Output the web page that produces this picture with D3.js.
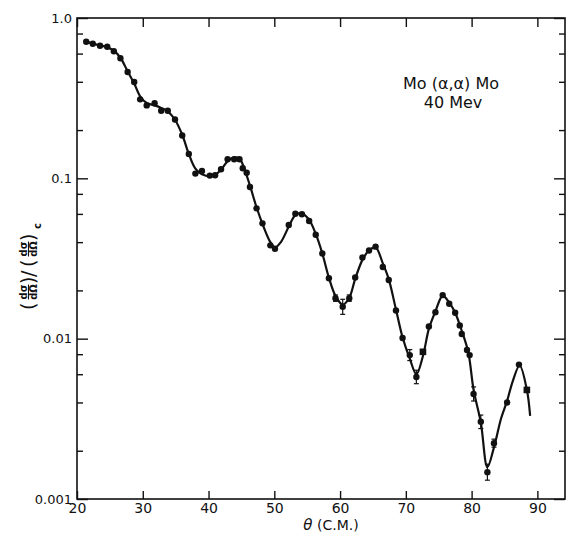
<!DOCTYPE html>
<html><head><meta charset="utf-8">
<script src="https://cdn.jsdelivr.net/npm/d3@7"></script>
<style>
body{margin:0;background:#fff}
svg{display:block}
text{font-family:"DejaVu Sans",sans-serif;fill:#111}
</style>
</head><body>
<svg id="c" width="566" height="533"></svg>
<script>
// ---- data ----
const theta = [21.4,22.4,23.5,24.6,25.6,26.6,27.7,28.7,29.6,30.6,
  31.8,32.8,33.8,34.9,36.0,37.0,38.0,39.0,40.2,41.0,
  41.9,42.9,43.9,44.7,45.2,45.8,46.3,47.3,48.2,49.4,
  50.1,52.2,53.2,54.2,55.3,56.3,57.3,58.3,59.3,60.4,
  61.4,62.3,63.4,64.4,65.4,66.5,67.4,68.5,69.5,70.6,
  71.6,72.6,73.5,74.5,75.6,76.6,77.5,78.2,78.5,79.3,
  79.7,80.3,81.4,82.4,83.4,85.4,87.2,88.4];
const ratio = [0.711,0.691,0.672,0.662,0.620,0.561,0.460,0.399,0.311,0.285,
  0.294,0.264,0.264,0.233,0.185,0.142,0.107,0.111,0.104,0.1045,
  0.114,0.1315,0.1315,0.1315,0.1155,0.1084,0.0883,0.0650,0.0524,0.0382,
  0.0364,0.0512,0.0601,0.0597,0.0542,0.0445,0.0340,0.0238,0.0179,0.0158,
  0.0179,0.0241,0.0321,0.0355,0.0375,0.0280,0.0232,0.0150,0.0101,0.0079,
  0.00577,0.00828,0.0119,0.0146,0.0187,0.0165,0.0145,0.0121,0.0107,0.0085,
  0.0079,0.00452,0.00303,0.00147,0.00223,0.00400,0.00689,0.00479];
const squareAt = [51, 67];
const errAt = [38,39,40,49,50,61,62,63,64];
const errHalf = [0.02,0.047,0.02,0.034,0.042,0.044,0.042,0.05,0.025]; // log10 half-widths

const curveTheta = [21.4,22.5,24.5,25.6,26.6,27.7,28.7,29.6,30.6,31.8,32.8,33.8,34.9,36.0,37.0,38.0,39.0,40.2,41.0,41.9,42.9,43.9,44.7,45.2,46.3,47.3,48.2,49.4,50.1,51.0,52.2,53.2,54.2,55.3,56.3,57.3,58.3,59.3,60.4,61.4,62.3,63.4,64.4,65.4,66.5,67.4,68.5,69.5,70.6,71.6,72.6,73.5,74.5,75.6,76.6,77.5,78.5,79.5,80.3,81.4,82.4,83.4,84.5,85.4,86.3,87.3,88.4,88.9];
const curveRatio = [0.715,0.69,0.66,0.625,0.565,0.465,0.39,0.325,0.295,0.285,0.275,0.262,0.232,0.187,0.142,0.115,0.106,0.103,0.105,0.113,0.128,0.135,0.133,0.122,0.090,0.066,0.052,0.040,0.037,0.040,0.050,0.059,0.0605,0.055,0.045,0.034,0.024,0.0185,0.0163,0.0180,0.0236,0.031,0.0355,0.037,0.0295,0.0235,0.0152,0.0102,0.0075,0.0060,0.0078,0.0115,0.0148,0.0185,0.0168,0.0145,0.0112,0.0082,0.0048,0.0030,0.00158,0.0021,0.0032,0.0041,0.0055,0.0068,0.0048,0.0033];

const xTicks = [20,30,40,50,60,70,80,90];
const yMajor = [1,0.1,0.01,0.001];
const yMajorLabels = ["1.0","0.1","0.01","0.001"];
const yMinor = [0.8,0.6,0.4,0.2,0.08,0.06,0.04,0.02,0.008,0.006,0.004,0.002];
const titleLines = ["Mo (α,α) Mo","40 Mev"];
const xLabelSymbol = "θ";
const xLabelRest = " (C.M.)";

// ---- drawing ----
const svg = d3.select("#c");
svg.append("rect").attr("width",566).attr("height",533).attr("fill","#fff");
const x = d3.scaleLinear().domain([20, 94.2]).range([77, 565]);
const y = d3.scaleLog().domain([0.001, 1]).range([499, 18]);
const X0 = x.range()[0], X1 = x.range()[1], Y0 = y.range()[0], Y1 = y.range()[1];

function styleAxis(g){
  g.select(".domain").remove();
  g.selectAll(".tick line").attr("stroke","#111").attr("stroke-width",1.4);
  g.selectAll(".tick text").attr("fill","#111").style("font-family",'"DejaVu Sans",sans-serif');
}
// left
svg.append("g").attr("transform",`translate(${X0},0)`)
  .call(d3.axisLeft(y).tickValues(yMajor).tickSize(-11).tickPadding(5).tickFormat((d,i)=>yMajorLabels[i]))
  .call(styleAxis).call(g=>g.selectAll("text").style("font-size","13px"));
svg.append("g").attr("transform",`translate(${X0},0)`)
  .call(d3.axisLeft(y).tickValues(yMinor).tickSize(-6).tickFormat(""))
  .call(styleAxis);
// right
svg.append("g").attr("transform",`translate(${X1},0)`)
  .call(d3.axisRight(y).tickValues(yMajor).tickSize(-11).tickFormat(""))
  .call(styleAxis);
svg.append("g").attr("transform",`translate(${X1},0)`)
  .call(d3.axisRight(y).tickValues(yMinor).tickSize(-6).tickFormat(""))
  .call(styleAxis);
// bottom
svg.append("g").attr("transform",`translate(0,${Y0})`)
  .call(d3.axisBottom(x).tickValues(xTicks).tickSize(-8).tickPadding(5).tickFormat(d3.format("d")))
  .call(styleAxis).call(g=>g.selectAll("text").style("font-size","14px").attr("y",4));
// top
svg.append("g").attr("transform",`translate(0,${Y1})`)
  .call(d3.axisTop(x).tickValues(xTicks).tickSize(-9).tickFormat(""))
  .call(styleAxis);

// frame
svg.append("rect").attr("x",X0).attr("y",Y1).attr("width",X1-X0).attr("height",Y0-Y1)
  .attr("fill","none").attr("stroke","#111").attr("stroke-width",1.6);

// curve
const curvePts = curveTheta.map((t,i)=>[t,curveRatio[i]]);
svg.append("path").datum(curvePts)
  .attr("d", d3.line().x(d=>x(d[0])).y(d=>y(d[1])).curve(d3.curveCatmullRom.alpha(0.5)))
  .attr("fill","none").attr("stroke","#111").attr("stroke-width",2.2);

// error bars
errAt.forEach((idx,k)=>{
  const t = theta[idx], v = ratio[idx], h = errHalf[k];
  const lo = v*Math.pow(10,-h), hi = v*Math.pow(10,h);
  const g = svg.append("g").attr("stroke","#111").attr("stroke-width",1.2);
  g.append("line").attr("x1",x(t)).attr("x2",x(t)).attr("y1",y(lo)).attr("y2",y(hi));
  g.append("line").attr("x1",x(t)-2.5).attr("x2",x(t)+2.5).attr("y1",y(lo)).attr("y2",y(lo));
  g.append("line").attr("x1",x(t)-2.5).attr("x2",x(t)+2.5).attr("y1",y(hi)).attr("y2",y(hi));
});

// points
const pts = theta.map((t,i)=>({t, v:ratio[i], sq: squareAt.includes(i)}));
svg.selectAll("circle.pt").data(pts.filter(d=>!d.sq)).join("circle")
  .attr("class","pt").attr("cx",d=>x(d.t)).attr("cy",d=>y(d.v)).attr("r",3.2).attr("fill","#111");
svg.selectAll("rect.pt").data(pts.filter(d=>d.sq)).join("rect")
  .attr("class","pt").attr("x",d=>x(d.t)-3.3).attr("y",d=>y(d.v)-3.3)
  .attr("width",6.6).attr("height",6.6).attr("fill","#111");

// title
svg.append("text").attr("x",451).attr("y",89).attr("text-anchor","middle")
  .style("font-size","16px").text(titleLines[0]);
svg.append("text").attr("x",453).attr("y",108).attr("text-anchor","middle")
  .style("font-size","16px").text(titleLines[1]);

// x label
const xl = svg.append("text").attr("x",331).attr("y",530).attr("text-anchor","middle").style("font-size","14px");
xl.append("tspan").style("font-style","italic").style("font-size","15px").text(xLabelSymbol);
xl.append("tspan").text(xLabelRest);

// y label (rotated fraction form)
const yl = svg.append("g").attr("transform","translate(28.5,310) rotate(-90)");
function paren(xp, ch){
  yl.append("text").attr("x",xp).attr("y",6).style("font-size","19px").text(ch);
}
function frac(cx){
  yl.append("text").attr("x",cx).attr("y",-2).attr("text-anchor","middle").style("font-size","10px").style("font-weight","bold").text("dσ");
  yl.append("text").attr("x",cx).attr("y",8.5).attr("text-anchor","middle").style("font-size","10px").style("font-weight","bold").text("dΩ");
  yl.append("line").attr("x1",cx-7.5).attr("x2",cx+7.5).attr("y1",0).attr("y2",0).attr("stroke","#111").attr("stroke-width",1.1);
}
paren(0,"(");
frac(18);
paren(26,")");
yl.append("text").attr("x",33).attr("y",6).style("font-size","19px").text("/");
paren(43,"(");
frac(61);
paren(69,")");
yl.append("text").attr("x",81).attr("y",12).style("font-size","10px").style("font-weight","bold").text("c");
</script>
</body></html>
